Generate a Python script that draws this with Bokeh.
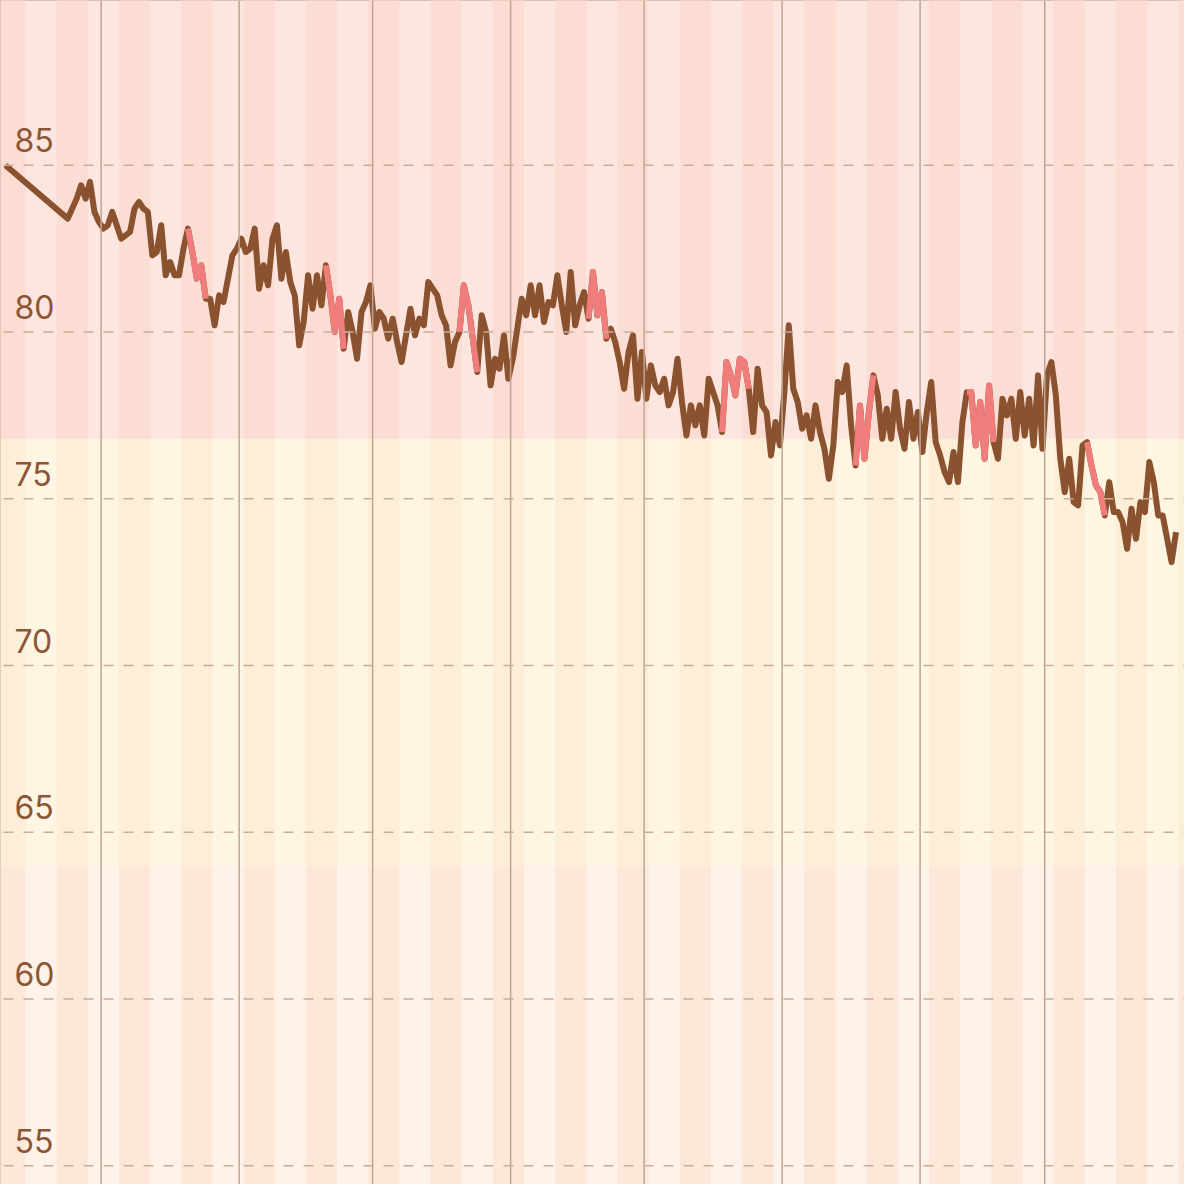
import pandas as pd
from bokeh.plotting import figure
from bokeh.models import Range1d, Span, Label, ColumnDataSource
from bokeh.embed import file_html
from bokeh.resources import INLINE

# ---------------- data ----------------
first_date = "2024-07-10 12:00"
first_weight = 85.0
daily_start = "2024-07-24 12:00"
weights = [
    83.4, 83.7, 84.0, 84.4, 84.0, 84.5, 83.6, 83.3, 83.1, 83.2,
    83.6, 83.2, 82.8, 82.9, 83.0, 83.7, 83.9, 83.7, 83.6, 82.3,
    82.4, 83.2, 81.7, 82.1, 81.7, 81.7, 82.5, 83.1, 82.4, 81.6,
    82.0, 81.0, 81.0, 80.2, 81.1, 80.9, 81.6, 82.3, 82.5, 82.8,
    82.4, 82.5, 83.1, 81.3, 82.0, 81.4, 82.8, 83.2, 81.6, 82.4,
    81.5, 81.1, 79.6, 80.3, 81.7, 80.7, 81.7, 80.8, 82.0, 81.1,
    80.0, 81.0, 79.5, 80.6, 80.0, 79.2, 80.6, 80.9, 81.4, 80.1,
    80.6, 80.4, 79.8, 80.4, 79.7, 79.1, 79.9, 80.7, 79.9, 80.4,
    80.2, 81.5, 81.3, 81.1, 80.5, 80.2, 79.0, 79.7, 80.0, 81.4,
    80.8, 79.8, 78.8, 80.5, 80.0, 78.4, 79.2, 78.9, 79.9, 78.6,
    79.2, 80.1, 81.0, 80.5, 81.4, 80.5, 81.4, 80.3, 80.9, 80.8,
    81.7, 80.8, 80.0, 81.8, 80.2, 80.8, 81.2, 80.4, 81.8, 80.5,
    81.2, 79.8, 80.1, 79.7, 79.1, 78.3, 79.4, 79.9, 78.0, 79.4,
    78.0, 79.0, 78.4, 78.2, 78.6, 77.8, 78.2, 79.2, 77.9, 76.9,
    77.8, 77.2, 77.8, 76.9, 78.6, 78.2, 77.8, 77.0, 79.1, 78.7,
    78.1, 79.2, 79.1, 78.3, 77.0, 78.9, 77.8, 77.6, 76.3, 77.3,
    76.6, 78.2, 80.2, 78.3, 77.9, 77.1, 77.5, 76.8, 77.8, 77.0,
    76.5, 75.6, 76.6, 78.5, 78.2, 79.0, 77.2, 76.0, 77.8, 76.2,
    77.6, 78.7, 78.1, 76.8, 77.7, 76.8, 78.2, 77.1, 76.5, 77.9,
    76.8, 77.6, 76.4, 77.6, 78.5, 76.7, 76.3, 75.8, 75.5, 76.4,
    75.5, 77.3, 78.2, 78.2, 76.6, 77.9, 76.2, 78.4, 76.7, 76.2,
    78.0, 77.5, 78.0, 76.8, 78.2, 76.9, 78.0, 76.6, 78.7, 76.5,
    78.7, 79.1, 78.1, 76.2, 75.2, 76.2, 74.9, 74.8, 76.6, 76.7,
    76.0, 75.4, 75.2, 74.5, 75.5, 74.6, 74.6, 74.3, 73.5, 74.7,
    73.8, 74.9, 74.6, 76.1, 75.5, 74.5, 74.5, 73.8, 73.1, 74.0,
]
period_starts = ["2024-08-20", "2024-09-20", "2024-10-20", "2024-11-18",
                 "2024-12-18", "2025-01-17", "2025-02-11", "2025-03-10"]
period_days = [5, 5, 5, 5, 7, 5, 7, 5]
month_starts = ["2024-08-01", "2024-09-01", "2024-10-01", "2024-11-01",
                "2024-12-01", "2025-01-01", "2025-02-01", "2025-03-01"]
y_ticks = [55, 60, 65, 70, 75, 80, 85]
height_m = 1.60
bmi_edges = [18.5, 25.0, 30.0]          # normal / overweight / obese
first_dark_week = "2024-07-08"
view_start = "2024-07-09 09:20"
view_end = "2025-04-01 09:40"
y_min, y_max = 54.44, 89.94

# ---------------- styles ----------------
band_light = ["#fff2e8", "#fff5e3", "#fde6df"]
band_dark = ["#fde7d8", "#fdeed8", "#fcddd4"]
line_brown = "#8b5230"
line_pink = "#f07c7b"
label_color = "#8b5636"

# ---------------- build ----------------
x0 = pd.Timestamp(view_start)
x1 = pd.Timestamp(view_end)
dates = [pd.Timestamp(first_date)] + list(pd.date_range(daily_start, periods=len(weights), freq="D"))
vals = [first_weight] + weights
src = ColumnDataSource(dict(x=dates, y=vals))

p = figure(width=1184, height=1184, x_range=Range1d(x0, x1), y_range=Range1d(y_min, y_max),
           x_axis_type=None, y_axis_type=None, toolbar_location=None,
           output_backend="svg", min_border=0)
p.grid.visible = False
p.outline_line_color = "#c0957c"
p.outline_line_width = 5
p.background_fill_color = band_light[0]
p.border_fill_color = "#ffffff"

kg_edges = [b * height_m ** 2 for b in bmi_edges]
band_lo = kg_edges
band_hi = kg_edges[1:] + [200.0]
p.quad(left=[x0] * 3, right=[x1] * 3, bottom=band_lo, top=band_hi, color=band_light, line_width=0)

week_starts = list(pd.date_range(first_dark_week, x1, freq="14D"))
for lo, hi, col in zip(band_lo, band_hi, band_dark):
    p.quad(left=week_starts, right=[w + pd.Timedelta(days=7) for w in week_starts],
           bottom=[lo] * len(week_starts), top=[hi] * len(week_starts), color=col, line_width=0)

for m in month_starts:
    p.add_layout(Span(location=pd.Timestamp(m), dimension="height",
                      line_color="#bea592", line_width=1.5))
for v in y_ticks:
    p.add_layout(Span(location=v, dimension="width", line_color="#c9ad9a",
                      line_width=1.5, line_dash="10 10", line_dash_offset=-3))
    p.add_layout(Label(x=14, x_units="screen", y=v, text=str(v), y_offset=25,
                       text_font="Inter", text_font_size="32px", text_color=label_color,
                       text_baseline="alphabetic"))

p.line("x", "y", source=src, line_color=line_brown, line_width=6, line_join="round")

for s, n in zip(period_starts, period_days):
    a = pd.Timestamp(s)
    b = a + pd.Timedelta(days=n)
    xs = [d for d in dates if a <= d < b]
    ys = [v for d, v in zip(dates, vals) if a <= d < b]
    p.line(xs, ys, line_color=line_pink, line_width=6, line_join="round")

open("out.html", "w").write(file_html(p, INLINE))
